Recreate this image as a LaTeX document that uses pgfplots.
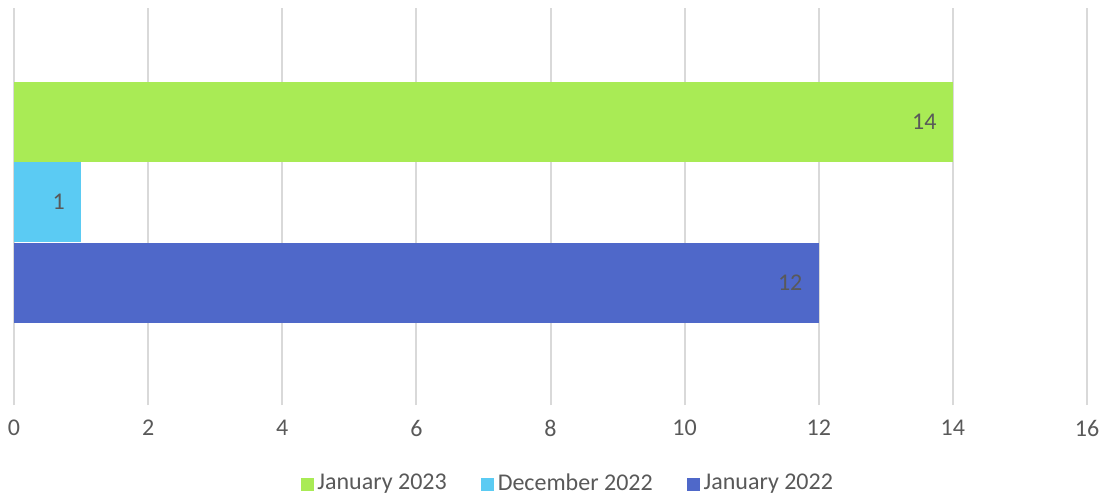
\documentclass[border=0pt]{standalone}
\usepackage{fontspec}
\setmainfont{Carlito}
\usepackage{pgfplots}
\pgfplotsset{compat=1.18}
\definecolor{jan23}{HTML}{A9EB55}
\definecolor{dec22}{HTML}{5BCBF3}
\definecolor{jan22}{HTML}{4F68C9}
\definecolor{txt}{HTML}{595959}
\definecolor{gridc}{HTML}{D9D9D9}
\begin{document}
\fontsize{12bp}{14bp}\selectfont
\begin{tikzpicture}
\begin{axis}[
    scale only axis,
    width=536.5bp, height=198.5bp,
    xmin=0, xmax=16,
    ymin=0, ymax=397,
    xtick={0,2,...,16},
    ytick=\empty,
    xmajorgrids=true,
    grid style={line width=1bp, draw=gridc},
    axis line style={draw=none},
    major tick length=0pt,
    tick label style={text=txt, font=\fontsize{12bp}{14bp}\selectfont},
    /pgf/number format/assume math mode=true,
    xticklabel style={yshift=-3.5bp},
    xbar, bar width=80, bar shift=0pt,
    nodes near coords,
    every node near coord/.append style={anchor=east, inner sep=0pt, xshift=-8bp, text=txt, font=\fontsize{12bp}{14bp}\selectfont},
    legend style={at={(0.517,-0.199)}, anchor=center, draw=none, legend columns=3,
        font=\fontsize{12bp}{14bp}\selectfont, text=txt,
        /tikz/every even column/.append style={column sep=15bp}},
    legend image code/.code={\fill[#1] (0bp,-3.25bp) rectangle (6.5bp,3.25bp);},
]
\addplot[draw=none, fill=jan23] coordinates {(14,283)};
\addlegendentry{January 2023}
\addplot[draw=none, fill=dec22] coordinates {(1,203)};
\addlegendentry{December 2022}
\addplot[draw=none, fill=jan22] coordinates {(12,122)};
\addlegendentry{January 2022}
\end{axis}
\pgfresetboundingbox
\path (current axis.south west) ++(-7bp,-46.5bp) rectangle ++(552.5bp,249bp);
\end{tikzpicture}
\end{document}
